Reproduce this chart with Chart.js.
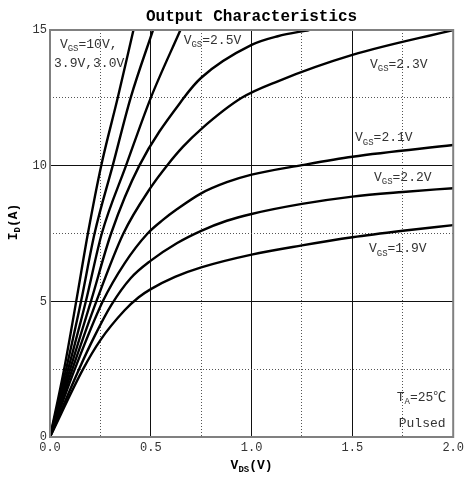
<!DOCTYPE html>
<html>
<head>
<meta charset="utf-8">
<script src="https://cdn.jsdelivr.net/npm/chart.js@4.4.0/dist/chart.umd.min.js"></script>
<style>
  html, body { margin: 0; padding: 0; background: #fff; }
</style>
</head>
<body>
<canvas id="chart" width="468" height="481"></canvas>
<script>
// curves: VDS in V, ID in A
const vgsNames = ['10V', '3.9V', '3.0V', '2.5V', '2.3V', '2.1V', '2.2V', '1.9V'];

const vds10 = [0, 0.07, 0.13, 0.188, 0.254, 0.336, 0.414];
const id10  = [0, 2.5, 5, 7.5, 10, 12.5, 15];
const vds39 = [0, 0.08, 0.154, 0.221, 0.311, 0.40, 0.511];
const id39  = [0, 2.5, 5, 7.5, 10, 12.5, 15];
const vds30 = [0, 0.09, 0.178, 0.257, 0.377, 0.50, 0.647];
const id30  = [0, 2.5, 5, 7.5, 10, 12.5, 15];
const vds25 = [0, 0.10, 0.203, 0.303, 0.443, 0.664, 0.75, 1.0, 1.13, 1.286];
const id25  = [0, 2.5, 5, 7.5, 10, 12.5, 13.24, 14.45, 14.77, 15];
const vds23 = [0, 0.111, 0.23, 0.364, 0.5, 0.58, 0.66, 0.75, 0.951, 1.13, 1.5, 2.0];
const id23  = [0, 2.5, 5, 7.5, 9.2, 10, 10.7, 11.35, 12.5, 13.11, 14.08, 15];
const vds21 = [0, 0.123, 0.262, 0.37, 0.484, 0.56, 0.631, 0.75, 0.877, 1.0, 1.25, 1.5, 2.0];
const id21  = [0, 2.5, 5, 6.4, 7.5, 8.0, 8.4, 8.98, 9.39, 9.67, 10.02, 10.33, 10.76];
const vds22 = [0, 0.144, 0.22, 0.303, 0.4, 0.5, 0.631, 0.75, 0.877, 1.0, 1.25, 1.5, 1.75, 2.0];
const id22  = [0, 2.5, 3.7, 4.85, 5.85, 6.5, 7.15, 7.6, 7.97, 8.22, 8.59, 8.86, 9.03, 9.17];
const vds19 = [0, 0.164, 0.25, 0.369, 0.44, 0.5, 0.62, 0.75, 1.0, 1.25, 1.5, 1.75, 2.0];
const id19  = [0, 2.5, 3.57, 4.66, 5.15, 5.45, 5.9, 6.25, 6.72, 7.06, 7.36, 7.6, 7.81];

const xTickLabels = ['0.0', '0.5', '1.0', '1.5', '2.0'];
const yTickLabels = ['0', '5', '10', '15'];

// notes on the plot, odd segments are subscripts; placed in data units
const noteSegs = [
    ['V', 'GS', '=10V,'],
    ['3.9V,3.0V'],
    ['V', 'GS', '=2.5V'],
    ['V', 'GS', '=2.3V'],
    ['V', 'GS', '=2.1V'],
    ['V', 'GS', '=2.2V'],
    ['V', 'GS', '=1.9V'],
    ['T', 'A', '=25℃'],
    ['Pulsed']
];
const noteX = [0.049, 0.02, 0.663, 1.587, 1.513, 1.607, 1.582, 1.72, 1.73];
const noteY = [14.45, 13.75, 14.6, 13.72, 11.02, 9.55, 6.93, 1.46, 0.5];

const FONT = '"Liberation Mono", "Noto Sans CJK SC", monospace';

function toPoints(xs, ys) {
    return xs.map((x, i) => ({ x: x, y: ys[i] }));
}

const curves = [
    [vds10, id10], [vds39, id39], [vds30, id30], [vds25, id25],
    [vds23, id23], [vds21, id21], [vds22, id22], [vds19, id19]
];

// text with subscripts, left aligned at x (or centred when center is true)
function drawRich(ctx, segs, x, y, size, bold, center) {
    const fontFor = (i) => (bold ? 'bold ' : '') + (i % 2 ? Math.round(size * 0.7) : size) + 'px ' + FONT;
    let total = 0;
    segs.forEach((s, i) => { ctx.font = fontFor(i); total += ctx.measureText(s).width; });
    let cx = center ? x - total / 2 : x;
    segs.forEach((s, i) => {
        ctx.font = fontFor(i);
        ctx.fillText(s, cx, i % 2 ? y + size * 0.32 : y);
        cx += ctx.measureText(s).width;
    });
}

const decorations = {
    id: 'decorations',
    afterDraw(chart) {
        const ctx = chart.ctx;
        const area = chart.chartArea;
        const xs = chart.scales.x, ys = chart.scales.y;
        ctx.save();
        // frame
        ctx.strokeStyle = '#808080';
        ctx.lineWidth = 2;
        ctx.strokeRect(area.left, area.top, area.right - area.left, area.bottom - area.top);

        ctx.textBaseline = 'middle';
        ctx.fillStyle = '#000';
        ctx.font = 'bold 16px ' + FONT;
        ctx.textAlign = 'center';
        ctx.fillText('Output Characteristics', (area.left + area.right) / 2, 17);
        ctx.textAlign = 'left';

        // axis titles
        drawRich(ctx, ['V', 'DS', '(V)'], (area.left + area.right) / 2, 466, 13, true, true);
        ctx.save();
        ctx.translate(14, 222);
        ctx.rotate(-Math.PI / 2);
        drawRich(ctx, ['I', 'D', '(A)'], 0, 0, 13, true, true);
        ctx.restore();

        ctx.fillStyle = '#333';
        for (let i = 0; i < noteSegs.length; i++) {
            drawRich(ctx, noteSegs[i], xs.getPixelForValue(noteX[i]), ys.getPixelForValue(noteY[i]), 13, false, false);
        }
        ctx.restore();
    }
};

function gridColor(c) {
    if (!c.tick) return 'rgba(0,0,0,0)';
    if (c.index === 0 || c.index === c.scale.ticks.length - 1) return 'rgba(0,0,0,0)';
    return c.index % 2 === 0 ? '#111' : '#555';
}

new Chart(document.getElementById('chart'), {
    type: 'scatter',
    data: {
        datasets: curves.map((c, i) => ({
            label: 'VGS=' + vgsNames[i],
            data: toPoints(c[0], c[1]),
            showLine: true,
            borderColor: '#000',
            borderWidth: 2.4,
            pointRadius: 0,
            cubicInterpolationMode: 'monotone'
        }))
    },
    plugins: [decorations],
    options: {
        responsive: false,
        animation: false,
        layout: { padding: { top: 30, right: 11, left: 0, bottom: 0 } },
        plugins: {
            legend: { display: false },
            tooltip: { enabled: false }
        },
        scales: {
            x: {
                type: 'linear',
                min: 0,
                max: 2,
                afterFit: (scale) => { scale.height = 44; },
                ticks: {
                    stepSize: 0.25,
                    autoSkip: false,
                    maxRotation: 0,
                    padding: 4,
                    color: '#333',
                    font: { family: FONT, size: 12 },
                    callback: (v, i) => (i % 2 === 0 ? xTickLabels[i / 2] : '')
                },
                grid: { color: gridColor, lineWidth: 1, drawTicks: false },
                border: { display: false, dash: (c) => (c.index % 2 === 0 ? [] : [1, 2]) }
            },
            y: {
                type: 'linear',
                min: 0,
                max: 15,
                afterFit: (scale) => { scale.width = 50; },
                ticks: {
                    stepSize: 2.5,
                    autoSkip: false,
                    padding: 3,
                    color: '#333',
                    font: { family: FONT, size: 12 },
                    callback: (v, i) => (i % 2 === 0 ? yTickLabels[i / 2] : '')
                },
                grid: { color: gridColor, lineWidth: 1, drawTicks: false },
                border: { display: false, dash: (c) => (c.index % 2 === 0 ? [] : [1, 2]) }
            }
        }
    }
});
</script>
</body>
</html>
